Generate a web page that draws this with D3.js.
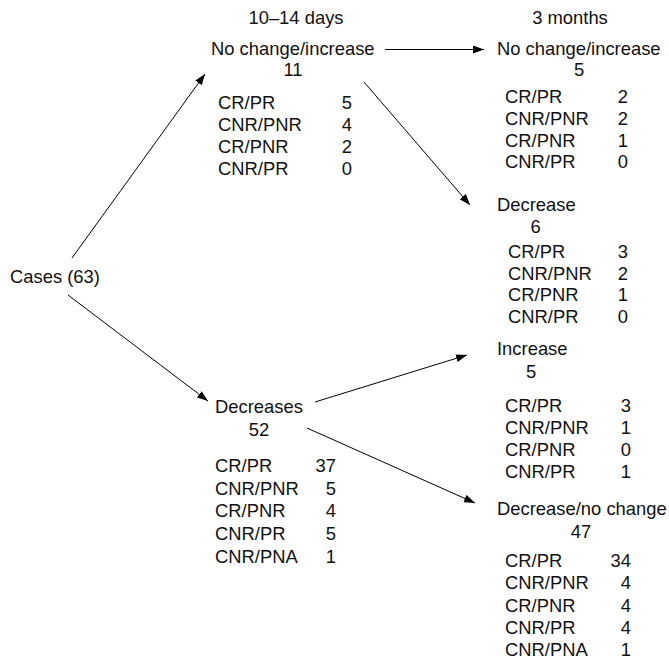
<!DOCTYPE html>
<html>
<head>
<meta charset="utf-8">
<script src="https://cdn.jsdelivr.net/npm/d3@7"></script>
<style>
  body { margin: 0; background: #fff; }
  text { font-family: "Liberation Sans", Arial, Helvetica, sans-serif; font-size: 18.4px; fill: #111; }
</style>
</head>
<body>
<script>
// Data
var stages = ["10\u201314 days", "3 months"];
var rootLabel = "Cases (63)";
var nodeLabels = ["No change/increase", "Decreases", "No change/increase", "Decrease", "Increase", "Decrease/no change"];
var nodeCounts = [11, 52, 5, 6, 5, 47];
var responseCats = ["CR/PR", "CNR/PNR", "CR/PNR", "CNR/PR", "CNR/PNA"];
var breakdown = [
  [5, 4, 2, 0],
  [37, 5, 4, 5, 1],
  [2, 2, 1, 0],
  [3, 2, 1, 0],
  [3, 1, 0, 1],
  [34, 4, 4, 4, 1]
];
// links: [from, to, port of "from"] ; -1 is the root
var links = [[-1, 0, 0], [-1, 1, 1], [0, 2, 0], [0, 3, 1], [1, 4, 0], [1, 5, 1]];

var width = 669;
var height = 666;

// Layout (positions only)
var stageX = [296, 570];
var stageY = 24;
var rootPos = { x: 10, y: 283, out: [[72, 258], [68, 295]] };
var layout = [
  { x: 211, y: 55, cx: 293, cy: 76, rx: 218, vx: 352, ry: 109, step: 22.1, inp: [205, 74], out: [[385, 49.5], [364, 82]] },
  { x: 215, y: 413, cx: 259, cy: 436, rx: 215, vx: 336, ry: 472, step: 22.7, inp: [208, 401], out: [[315, 402], [307, 428]] },
  { x: 497, y: 55, cx: 579, cy: 76, rx: 505, vx: 628, ry: 103, step: 21.8, inp: [484, 49.5] },
  { x: 497, y: 211, cx: 535.5, cy: 233, rx: 508, vx: 628, ry: 258, step: 21.7, inp: [470, 205] },
  { x: 497, y: 355, cx: 531, cy: 378, rx: 505, vx: 631, ry: 412, step: 22, inp: [467, 355] },
  { x: 497, y: 515, cx: 581, cy: 538, rx: 505, vx: 631, ry: 567, step: 22.3, inp: [475, 503] }
];

var svg = d3.select("body")
  .append("svg")
  .attr("width", width)
  .attr("height", height);

svg.append("defs").append("marker")
  .attr("id", "arrow")
  .attr("markerUnits", "userSpaceOnUse")
  .attr("markerWidth", 11)
  .attr("markerHeight", 8)
  .attr("refX", 11)
  .attr("refY", 4)
  .attr("orient", "auto")
  .append("path")
  .attr("d", "M0,0 L11,4 L0,8 Z")
  .style("fill", "#000");

// stage headers
svg.selectAll("text.stage")
  .data(stages)
  .enter()
  .append("text")
  .attr("class", "stage")
  .attr("x", function(d, i) { return stageX[i]; })
  .attr("y", stageY)
  .attr("text-anchor", "middle")
  .text(function(d) { return d; });

// root
svg.append("text")
  .attr("x", rootPos.x)
  .attr("y", rootPos.y)
  .text(rootLabel);

// arrows
svg.selectAll("line.link")
  .data(links)
  .enter()
  .append("line")
  .attr("class", "link")
  .attr("x1", function(d) { return d[0] < 0 ? rootPos.out[d[2]][0] : layout[d[0]].out[d[2]][0]; })
  .attr("y1", function(d) { return d[0] < 0 ? rootPos.out[d[2]][1] : layout[d[0]].out[d[2]][1]; })
  .attr("x2", function(d) { return layout[d[1]].inp[0]; })
  .attr("y2", function(d) { return layout[d[1]].inp[1]; })
  .style("stroke", "#000")
  .style("stroke-width", 1)
  .attr("marker-end", "url(#arrow)");

// nodes
var node = svg.selectAll("g.node")
  .data(nodeLabels)
  .enter()
  .append("g")
  .attr("class", "node");

node.append("text")
  .attr("x", function(d, i) { return layout[i].x; })
  .attr("y", function(d, i) { return layout[i].y; })
  .text(function(d) { return d; });

node.append("text")
  .attr("x", function(d, i) { return layout[i].cx; })
  .attr("y", function(d, i) { return layout[i].cy; })
  .attr("text-anchor", "middle")
  .text(function(d, i) { return nodeCounts[i]; });

node.each(function(d, i) {
  var g = d3.select(this);
  var L = layout[i];
  var rows = g.selectAll("g.row")
    .data(breakdown[i])
    .enter()
    .append("g")
    .attr("class", "row")
    .attr("transform", function(v, j) { return "translate(0," + (L.ry + j * L.step) + ")"; });
  rows.append("text")
    .attr("x", L.rx)
    .text(function(v, j) { return responseCats[j]; });
  rows.append("text")
    .attr("x", L.vx)
    .attr("text-anchor", "end")
    .text(function(v) { return v; });
});
</script>
</body>
</html>
